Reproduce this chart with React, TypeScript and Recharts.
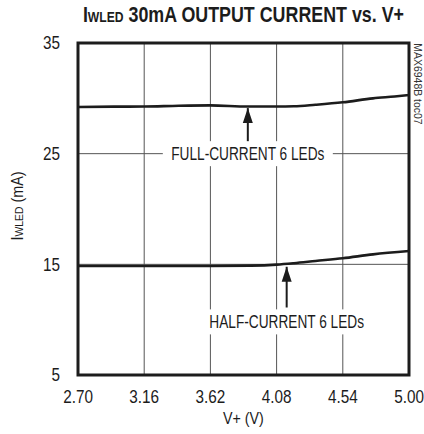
import React from "react";
import {
  CartesianGrid,
  Line,
  LineChart,
  ReferenceArea,
  ReferenceDot,
  ReferenceLine,
  XAxis,
  YAxis
} from "recharts";

const FONT = "'Liberation Sans', Arial, sans-serif";
const INK = "#1c1c1c";

// supply voltage ticks (V)
const voltTicks = [2.7, 3.16, 3.62, 4.08, 4.54, 5.0];
// output current ticks (mA)
const currentTicks = [5, 15, 25, 35];

// full-current curve, 6 LEDs
const fullVolts = [2.7, 2.95, 3.16, 3.4, 3.62, 3.88, 4.08, 4.2, 4.35, 4.54, 4.75, 4.9, 5.0];
const fullCurrent = [29.22, 29.25, 29.26, 29.33, 29.36, 29.26, 29.26, 29.28, 29.42, 29.64, 30.0, 30.17, 30.3];

// half-current curve, 6 LEDs
const halfVolts = [2.7, 3.16, 3.62, 3.9, 4.08, 4.2, 4.35, 4.54, 4.75, 5.0];
const halfCurrent = [14.85, 14.85, 14.85, 14.88, 14.97, 15.1, 15.3, 15.55, 15.9, 16.2];

// annotations: label centre, arrow tip, arrow tail
const fullNote = { text: "FULL-CURRENT 6 LEDs", v: 3.88, i: 25, tip: 29.12, tail: 25.98 };
const halfNote = { text: "HALF-CURRENT 6 LEDs", v: 4.15, i: 9.8, tip: 14.78, tail: 11.1 };

const fullData = fullVolts.map((v, k) => ({ v, i: fullCurrent[k] }));
const halfData = halfVolts.map((v, k) => ({ v, i: halfCurrent[k] }));

// the original uses a condensed face; squeeze Liberation Sans horizontally instead
function XTick(p: any) {
  return (
    <g transform={`translate(${p.x},${p.y}) scale(0.85,1)`}>
      <text x={0} y={0} dy="0.71em" textAnchor="middle" fontFamily={FONT} fontSize={18} fill={INK}>
        {Number(p.payload.value).toFixed(2)}
      </text>
    </g>
  );
}

function YTick(p: any) {
  return (
    <g transform={`translate(${p.x},${p.y}) scale(0.85,1)`}>
      <text x={0} y={0} dy="0.355em" textAnchor="end" fontFamily={FONT} fontSize={18} fill={INK}>
        {p.payload.value}
      </text>
    </g>
  );
}

function noteShape(text: string, w: number) {
  return (p: any) => (
    <g>
      <rect x={p.cx - w / 2} y={p.cy - 12.5} width={w} height={25} fill="#fff" />
      <g transform={`translate(${p.cx},${p.cy}) scale(0.72,1)`}>
        <text x={0} y={0} textAnchor="middle" dominantBaseline="central" fontFamily={FONT} fontSize={19} fill={INK}>
          {text}
        </text>
      </g>
    </g>
  );
}

function arrowHead(p: any) {
  const { cx, cy } = p;
  return <polygon points={`${cx},${cy} ${cx - 5},${cy + 15} ${cx + 5},${cy + 15}`} fill={INK} />;
}

const narrow = (s: number): React.CSSProperties => ({ display: "inline-block", transform: `scaleX(${s})` });

export default function App() {
  return (
    <div style={{ position: "absolute", left: 0, top: 0, width: 424, height: 434, background: "#fff", fontFamily: FONT, color: INK }}>
      <div style={{ position: "absolute", left: 0, width: 486, top: 3, textAlign: "center", whiteSpace: "nowrap" }}>
        <span style={{ ...narrow(0.83), fontWeight: "bold", fontSize: 21.5 }}>
          I<span style={{ fontSize: "0.68em" }}>WLED</span> 30mA OUTPUT CURRENT vs. V+
        </span>
      </div>

      <LineChart
        width={424}
        height={434}
        margin={{ top: 43, right: 15, bottom: 0, left: 0 }}
        style={{ position: "absolute", left: 0, top: 0 }}
      >
        <CartesianGrid stroke="#555" strokeWidth={1} />
        <XAxis
          type="number"
          dataKey="v"
          domain={[2.7, 5]}
          ticks={voltTicks}
          axisLine={false}
          tickLine={false}
          tickSize={0}
          tickMargin={15}
          height={59}
          tick={<XTick />}
          allowDuplicatedCategory={false}
        />
        <YAxis
          type="number"
          domain={[5, 35]}
          ticks={currentTicks}
          axisLine={false}
          tickLine={false}
          tickSize={0}
          tickMargin={18}
          width={78}
          tick={<YTick />}
        />
        <ReferenceArea x1={2.7} x2={5} y1={5} y2={35} fill="none" stroke={INK} strokeWidth={3} />
        <Line data={fullData} dataKey="i" type="monotone" stroke={INK} strokeWidth={2.6} dot={false} isAnimationActive={false} />
        <Line data={halfData} dataKey="i" type="monotone" stroke={INK} strokeWidth={2.6} dot={false} isAnimationActive={false} />

        <ReferenceLine segment={[{ x: fullNote.v, y: fullNote.tip }, { x: fullNote.v, y: fullNote.tail }]} stroke={INK} strokeWidth={2} />
        <ReferenceDot x={fullNote.v} y={fullNote.tip} shape={arrowHead} />
        <ReferenceDot x={fullNote.v} y={fullNote.i} shape={noteShape(fullNote.text, 170)} />

        <ReferenceLine segment={[{ x: halfNote.v, y: halfNote.tip }, { x: halfNote.v, y: halfNote.tail }]} stroke={INK} strokeWidth={2} />
        <ReferenceDot x={halfNote.v} y={halfNote.tip} shape={arrowHead} />
        <ReferenceDot x={halfNote.v} y={halfNote.i} shape={noteShape(halfNote.text, 170)} />
      </LineChart>

      <div style={{ position: "absolute", left: 0, width: 486, top: 409, textAlign: "center", fontSize: 17, whiteSpace: "nowrap" }}>
        <span style={narrow(0.84)}>V+ (V)</span>
      </div>

      <div
        style={{
          position: "absolute",
          left: 18,
          top: 206,
          transform: "translate(-50%, -50%) rotate(-90deg) scaleX(0.9)",
          fontSize: 16,
          whiteSpace: "nowrap"
        }}
      >
        I<span style={{ fontSize: "0.72em" }}>WLED</span> (mA)
      </div>

      <div
        style={{
          position: "absolute",
          left: 418,
          top: 84,
          transform: "translate(-50%, -50%) rotate(90deg) scaleX(0.95)",
          fontSize: 11,
          whiteSpace: "nowrap",
          color: "#333"
        }}
      >
        MAX6948B toc07
      </div>
    </div>
  );
}
